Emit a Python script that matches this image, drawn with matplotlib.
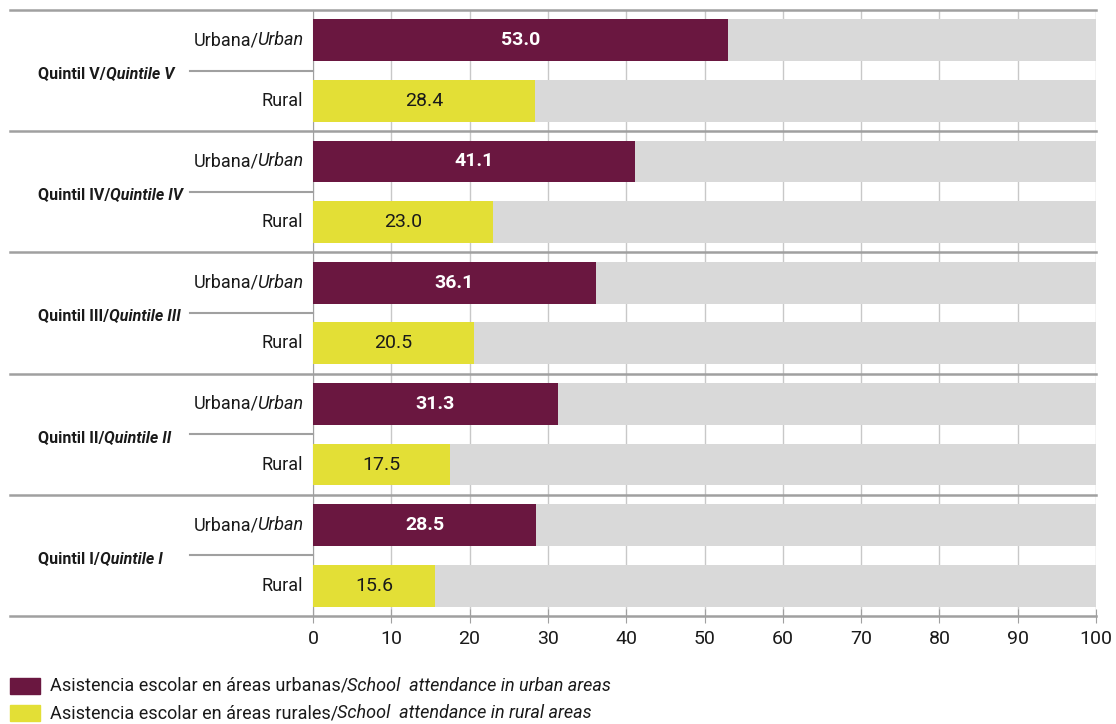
import numpy as np
import matplotlib
matplotlib.use('Agg')
import matplotlib.pyplot as plt
import matplotlib.transforms as mtransforms
from matplotlib.patches import Rectangle

plt.rcParams['font.family'] = ['Roboto', 'DejaVu Sans']

# Data
quintiles_es = ['Quintil V/', 'Quintil IV/', 'Quintil III/', 'Quintil II/', 'Quintil I/']
quintiles_en = ['Quintile V', 'Quintile IV', 'Quintile III', 'Quintile II', 'Quintile I']
urban_values = [53.0, 41.1, 36.1, 31.3, 28.5]
rural_values = [28.4, 23.0, 20.5, 17.5, 15.6]
xticks = [0, 10, 20, 30, 40, 50, 60, 70, 80, 90, 100]
legend_es = ['Asistencia escolar en áreas urbanas/', 'Asistencia escolar en áreas rurales/']
legend_en = ['School  attendance in urban areas', 'School  attendance in rural areas']

urban_color = '#6A1740'
rural_color = '#E3DF36'
bg_color = '#D9D9D9'
line_color = '#A0A0A0'
text_color = '#1a1a1a'

W, H = 1116, 724
fig = plt.figure(figsize=(W / 100, H / 100), dpi=100)
ax = fig.add_axes([313 / W, 1 - 616 / H, (1096 - 313) / W, (616 - 10) / H])

n = len(quintiles_es)
bar_h = 0.69
ax.set_xlim(0, 100)
ax.set_ylim(2 * n, 0)

for i in range(n):
    yu = 2 * i + 0.5
    yr = 2 * i + 1.5
    # background bars (full scale)
    ax.barh([yu, yr], [100, 100], height=bar_h, color=bg_color, zorder=2)
    ax.barh(yu, urban_values[i], height=bar_h, color=urban_color, zorder=3)
    ax.barh(yr, rural_values[i], height=bar_h, color=rural_color, zorder=3)
    ax.text(urban_values[i] / 2, yu, f'{urban_values[i]:.1f}', ha='center', va='center',
            color='white', fontsize=14, fontweight='bold', zorder=4)
    ax.text(rural_values[i] / 2, yr, f'{rural_values[i]:.1f}', ha='center', va='center',
            color=text_color, fontsize=14, zorder=4)

# grid
ax.set_xticks(xticks)
ax.xaxis.grid(True, color='#C8C8C8', linewidth=1, zorder=1)
ax.set_axisbelow(True)
ax.set_yticks([])
for s in ['top', 'right']:
    ax.spines[s].set_visible(False)
ax.spines['left'].set_color(line_color)
ax.spines['bottom'].set_visible(False)
ax.tick_params(axis='x', direction='inout', length=10, color=line_color, labelsize=14,
               labelcolor=text_color, pad=5)

# separators spanning figure width
trans = mtransforms.blended_transform_factory(fig.transFigure, ax.transData)
for k in range(n + 1):
    ax.plot([10 / W, 1096 / W], [2 * k, 2 * k], transform=trans, color=line_color,
            linewidth=1.8, clip_on=False, zorder=5)

# row labels
for i in range(n):
    yu = 2 * i + 0.5
    yr = 2 * i + 1.5
    yc = 2 * i + 1.0
    t_en = ax.text(303 / W, yu, 'Urban', transform=trans, ha='right', va='center',
                   fontsize=13, style='italic', color=text_color)
    ax.annotate('Urbana/', xy=(0, 0), xycoords=t_en, xytext=(1.5, 0),
                textcoords='offset points', ha='right', va='bottom',
                fontsize=13, color=text_color)
    ax.text(303 / W, yr, 'Rural', transform=trans, ha='right', va='center',
            fontsize=13, color=text_color)
    t_es = ax.text(38 / W, yc + 0.05, quintiles_es[i], transform=trans, ha='left', va='center',
                   fontsize=11.5, fontweight='bold', color=text_color)
    ax.annotate(quintiles_en[i], xy=(1, 0), xycoords=t_es, ha='left', va='bottom',
                fontsize=11.5, fontweight='bold', style='italic', color=text_color)
    ax.plot([190 / W, 313 / W], [yc, yc], transform=trans, color=line_color,
            linewidth=1.5, clip_on=False, zorder=5)

# legend
for j, col in enumerate([urban_color, rural_color]):
    yc = 686 + j * 27
    fig.patches.append(Rectangle((10 / W, 1 - (yc + 8) / H), 30 / W, 16 / H,
                                 transform=fig.transFigure, color=col))
    t = fig.text(50 / W, 1 - yc / H, legend_es[j], ha='left', va='center', fontsize=13,
                 color=text_color)
    fig.texts.append(matplotlib.text.Annotation(legend_en[j], xy=(1, 0), xycoords=t,
                                                xytext=(-1, 0), textcoords='offset points',
                                                ha='left', va='bottom', fontsize=13,
                                                style='italic', color=text_color))
    fig.texts[-1].set_figure(fig)

fig.savefig('out.png', dpi=100, facecolor='white')
